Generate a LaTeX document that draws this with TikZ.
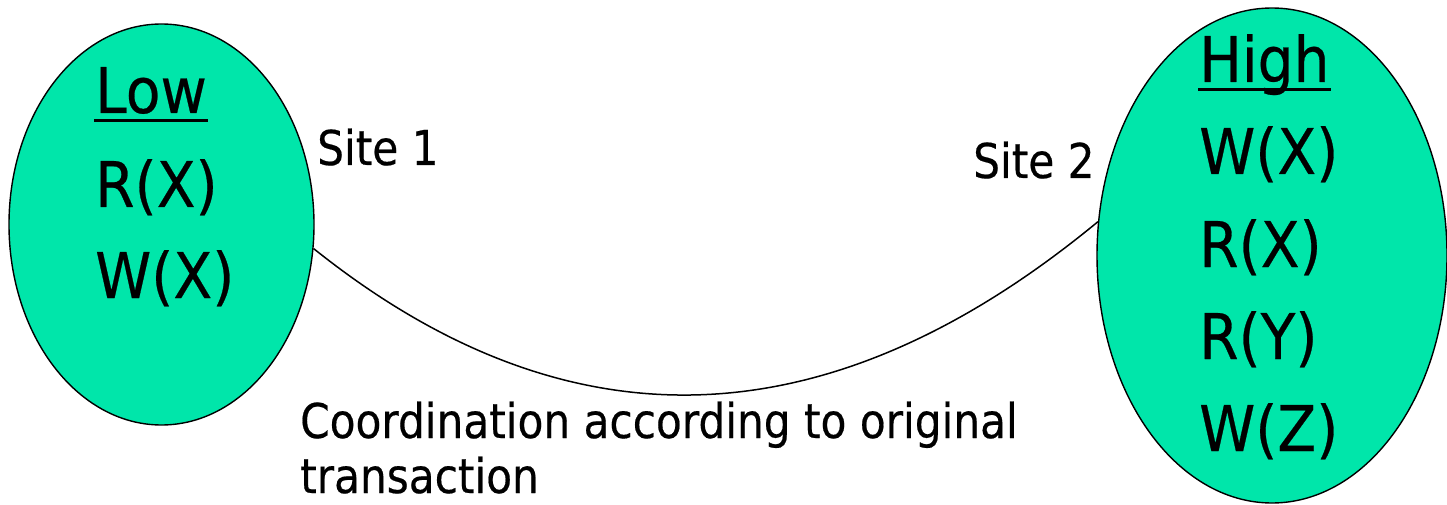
\documentclass[tikz,border=0pt]{standalone}
\usepackage{fontspec}
\setmainfont[FakeStretch=0.9,FakeBold=0.4]{DejaVu Sans}
\newfontfamily\notefont[FakeStretch=0.88,FakeBold=0.4]{DejaVu Sans}
\usetikzlibrary{shapes.geometric}
\definecolor{sitegreen}{RGB}{0,230,170}
\newcommand{\ulhead}[1]{\setbox0\hbox{#1}\rlap{\kern-1pt\rule[-9pt]{\dimexpr\wd0+2pt}{3pt}}\box0}
\tikzset{
	site/.style={shape=ellipse,draw=black,fill=sitegreen,line width=1.4pt,inner sep=0pt},
	op/.style={anchor=base west,inner sep=0pt,font=\fontsize{63}{75}\selectfont},
	note/.style={anchor=base west,inner sep=0pt,font=\notefont\fontsize{48}{55}\selectfont}
}
\begin{document}
\begin{tikzpicture}[x=1pt,y=-1pt]
	\useasboundingbox (0,0) rectangle (1447,505);
	\node[site,minimum width=305pt,minimum height=401pt] (low) at (161.5,224.5) {};
	\node[site,minimum width=350pt,minimum height=495pt] (high) at (1272,255.5) {};

	\node[op] (lowhead) at (95,113) {\ulhead{Low}};
	\node[op] (low1) at (95,207) {R(X)};
	\node[op] (low2) at (95,298) {W(X)};

	\node[op] (highhead) at (1199,82) {\ulhead{High}};
	\node[op] (high1) at (1199,174) {W(X)};
	\node[op] (high2) at (1199,267) {R(X)};
	\node[op] (high3) at (1199,359) {R(Y)};
	\node[op] (high4) at (1199,451) {W(Z)};

	\node[note] (site1) at (317,165) {Site 1};
	\node[note] (site2) at (973,178) {Site 2};
	\node[note] (coord) at (300,438) {Coordination according to original};
	\node[note] (trans) at (300,493) {transaction};

	\draw[line width=1.5pt] (low.-9) .. controls +(250,200) and +(-274,226) .. (high.169);
\end{tikzpicture}
\end{document}
